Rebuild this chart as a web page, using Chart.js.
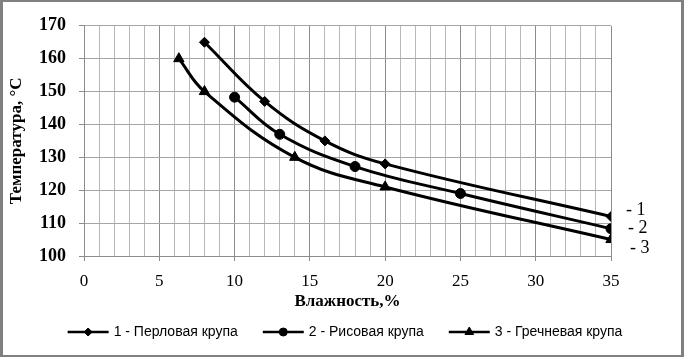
<!DOCTYPE html>
<html><head><meta charset="utf-8">
<script src="https://cdn.jsdelivr.net/npm/chart.js@4/dist/chart.umd.min.js"></script>
<style>
html,body{margin:0;padding:0;background:#fff;}
#frame{position:absolute;left:0;top:0;width:684px;height:357px;box-sizing:border-box;border-style:solid;border-color:#808080;border-width:2px 3px 2px 3px;background:#fff;}
canvas{display:block;}
</style></head><body>
<div id="frame"><canvas id="c" width="678" height="353"></canvas></div>
<script>
// ---- data ----
const seriesLabels = ['1 - Перловая крупа', '2 - Рисовая крупа', '3 - Гречневая крупа'];
const endLabels = ['- 1', '- 2', '- 3'];
const moisture1 = [8, 12, 16, 20, 35];
const temp1 = [165, 147, 135, 128, 112];
const moisture2 = [10, 13, 18, 25, 35];
const temp2 = [148.3, 137, 127.2, 119, 108.3];
const moisture3 = [6.3, 8, 14, 20, 35];
const temp3 = [160, 150, 130, 121, 105];
const xTitle = 'Влажность,%';
const yTitle = 'Температура, °C';

// ---- styling ----
const serif = '"Liberation Serif", "Times New Roman", serif';
const sans = '"Liberation Sans", Arial, sans-serif';
const markerStyles = ['rectRot', 'circle', 'triangle'];
const markerRadii = [5, 5, 6];
const endLabelOffsets = [[15, -6], [17, 0], [19, 9]];

function pts(xs, ys) { return xs.map((x, i) => ({x: x, y: ys[i]})); }
const series = [pts(moisture1, temp1), pts(moisture2, temp2), pts(moisture3, temp3)];

const datasets = series.map((d, i) => ({
  label: seriesLabels[i],
  data: d,
  borderColor: '#000',
  backgroundColor: '#000',
  borderWidth: 3,
  pointStyle: markerStyles[i],
  pointRadius: markerRadii[i],
  pointBackgroundColor: '#000',
  pointBorderColor: '#000',
  pointBorderWidth: 1,
  tension: 0.4,
  fill: false
}));

const endLabelPlugin = {
  id: 'endLabels',
  afterDatasetsDraw(chart) {
    const ctx = chart.ctx;
    ctx.save();
    ctx.font = '18px ' + serif;
    ctx.fillStyle = '#000';
    ctx.textAlign = 'left';
    ctx.textBaseline = 'middle';
    chart.data.datasets.forEach((ds, i) => {
      const meta = chart.getDatasetMeta(i);
      const p = meta.data[meta.data.length - 1];
      ctx.fillText(endLabels[i], p.x + endLabelOffsets[i][0], p.y + endLabelOffsets[i][1]);
    });
    ctx.restore();
  }
};

const legendPlugin = {
  id: 'customLegend',
  afterDraw(chart) {
    const ctx = chart.ctx;
    ctx.save();
    ctx.font = '14px ' + sans;
    const lineLen = 41, gapText = 5, gapItem = 25;
    const widths = chart.data.datasets.map(ds => ctx.measureText(ds.label).width);
    const total = widths.reduce((a, w) => a + lineLen + gapText + w, 0) + gapItem * (widths.length - 1);
    let x = 342 - total / 2;
    const y = 330;
    chart.data.datasets.forEach((ds, i) => {
      ctx.strokeStyle = '#000';
      ctx.fillStyle = '#000';
      ctx.lineWidth = 2.5;
      ctx.beginPath();
      ctx.moveTo(x, y); ctx.lineTo(x + lineLen, y); ctx.stroke();
      ctx.lineWidth = 1;
      Chart.helpers.drawPoint(ctx, {pointStyle: ds.pointStyle, radius: ds.pointRadius - 1, borderWidth: 1, rotation: 0}, x + lineLen / 2, y);
      ctx.fillStyle = '#000';
      ctx.textAlign = 'left';
      ctx.textBaseline = 'middle';
      ctx.fillText(ds.label, x + lineLen + gapText, y);
      x += lineLen + gapText + widths[i] + gapItem;
    });
    ctx.restore();
  }
};

new Chart(document.getElementById('c'), {
  type: 'line',
  data: {datasets: datasets},
  options: {
    responsive: false,
    animation: false,
    devicePixelRatio: 1,
    layout: {padding: {top: 14, right: 70, bottom: 43, left: 0}},
    plugins: {legend: {display: false}, tooltip: {enabled: false}},
    scales: {
      x: {
        type: 'linear', min: 0, max: 35,
        afterFit(s) { s.height = 56; },
        border: {color: '#8c8c8c', width: 1},
        grid: {
          color: c => (c.tick && c.tick.value % 5 === 0) ? '#8c8c8c' : '#b8b8b8',
          tickColor: c => (c.tick && c.tick.value % 5 === 0) ? '#8c8c8c' : 'rgba(0,0,0,0)',
          tickLength: 5
        },
        ticks: {
          stepSize: 1, autoSkip: false, maxRotation: 0, padding: 10,
          color: '#000', font: {family: serif, size: 17},
          callback: v => (v % 5 === 0 ? String(v) : '')
        },
        title: {display: true, text: xTitle, color: '#000', font: {family: serif, size: 17, weight: 'bold'}, padding: {top: 0, bottom: 0}}
      },
      y: {
        min: 100, max: 170,
        afterFit(s) { s.width = 81; },
        border: {color: '#8c8c8c', width: 1},
        grid: {color: '#a6a6a6', tickColor: '#8c8c8c', tickLength: 5},
        ticks: {stepSize: 10, padding: 13, color: '#000', font: {family: serif, size: 18, weight: 'bold'}},
        title: {display: true, text: yTitle, color: '#000', font: {family: serif, size: 17, weight: 'bold'}, padding: {top: 3, bottom: 0}}
      }
    }
  },
  plugins: [endLabelPlugin, legendPlugin]
});
</script>
</body></html>
